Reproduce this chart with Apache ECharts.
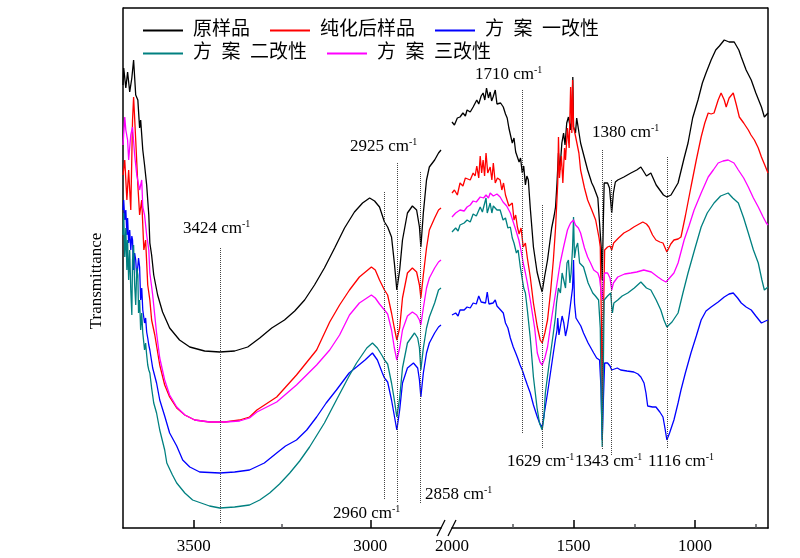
<!DOCTYPE html>
<html>
<head>
<meta charset="utf-8">
<script src="https://cdn.jsdelivr.net/npm/echarts@6/dist/echarts.min.js"></script>
<style>html,body{margin:0;padding:0;background:#fff}#chart{width:800px;height:558px}</style>
</head>
<body>
<div id="chart"></div>
<script>
// series names (legend order)
const names = ["原样品", "纯化后样品", "方\u2002案\u2002一改性", "方\u2002案\u2002二改性", "方\u2002案\u2002三改性"]
const colors = ["#000000", "#ff0000", "#0000ff", "#008080", "#ff00ff"]

// left part of the broken axis: 3700 - 2800 cm-1, [wavenumber, transmittance (a.u.)]
const blackLeft = [[3700,443],[3698,460],[3692,440],[3687,456],[3681,436],[3675,450],[3670,468],[3664,433],[3658,428],[3653,400],[3650,408],[3644,378],[3639,363],[3633,343],[3627,313],[3624,285],[3619,273],[3613,253],[3602,233],[3588,216],[3568,200],[3540,188],[3511,181],[3469,177],[3426,176],[3384,177],[3347,181],[3313,190],[3279,200],[3243,208],[3214,217],[3186,228],[3158,243],[3130,260],[3101,280],[3073,300],[3045,316],[3022,325],[3002,330],[2988,327],[2974,321],[2960,306],[2951,301],[2940,291],[2932,265],[2925,238],[2917,258],[2909,288],[2895,315],[2881,322],[2869,318],[2861,301],[2857,281],[2850,315],[2841,348],[2833,361],[2818,368],[2807,375],[2800,378]]
const redLeft = [[3700,353],[3695,368],[3689,328],[3684,358],[3678,318],[3673,408],[3670,431],[3664,388],[3658,343],[3653,313],[3647,328],[3641,278],[3636,288],[3630,243],[3624,228],[3619,208],[3610,193],[3596,163],[3582,143],[3568,131],[3548,120],[3525,113],[3497,108],[3455,106],[3412,106],[3370,108],[3342,111],[3321,118],[3265,131],[3209,153],[3152,178],[3115,206],[3087,223],[3059,238],[3031,251],[2997,261],[2986,258],[2974,248],[2960,238],[2951,233],[2940,215],[2932,200],[2925,188],[2917,200],[2909,230],[2895,255],[2881,260],[2869,256],[2861,243],[2857,230],[2850,253],[2841,280],[2833,298],[2818,310],[2807,318],[2800,320]]
const blueLeft = [[3700,318],[3698,328],[3695,308],[3692,318],[3689,293],[3687,310],[3684,285],[3681,298],[3678,278],[3675,292],[3673,288],[3670,258],[3667,275],[3664,268],[3661,250],[3658,250],[3656,270],[3653,261],[3650,228],[3647,240],[3644,218],[3639,205],[3636,210],[3633,196],[3630,190],[3627,183],[3624,178],[3616,160],[3605,145],[3596,128],[3582,112],[3568,95],[3548,82],[3531,68],[3511,61],[3483,56],[3426,55],[3384,56],[3342,58],[3300,65],[3265,75],[3240,82],[3209,88],[3180,98],[3152,111],[3125,125],[3096,138],[3060,155],[3039,161],[3015,168],[2994,175],[2980,168],[2966,155],[2960,150],[2951,146],[2940,128],[2932,112],[2925,98],[2917,118],[2909,145],[2895,160],[2878,165],[2866,160],[2861,148],[2857,131],[2850,155],[2841,175],[2833,185],[2818,195],[2807,201],[2800,203]]
const tealLeft = [[3700,293],[3698,315],[3695,271],[3692,300],[3689,258],[3687,288],[3684,248],[3681,278],[3678,238],[3675,213],[3673,268],[3670,283],[3667,243],[3664,223],[3661,260],[3658,253],[3656,215],[3653,228],[3650,198],[3647,215],[3644,195],[3639,178],[3636,185],[3633,173],[3630,163],[3627,158],[3624,155],[3619,140],[3613,125],[3605,115],[3596,98],[3582,78],[3576,65],[3560,53],[3548,45],[3525,35],[3503,28],[3455,22],[3426,20],[3384,21],[3342,23],[3313,28],[3285,35],[3257,44],[3228,55],[3200,67],[3172,81],[3130,105],[3096,128],[3060,152],[3039,165],[3010,180],[2994,185],[2980,180],[2966,172],[2960,168],[2951,164],[2940,145],[2932,128],[2925,111],[2917,130],[2909,160],[2895,185],[2875,195],[2866,190],[2861,180],[2857,158],[2850,180],[2841,200],[2833,211],[2818,225],[2807,238],[2800,240]]
const pinkLeft = [[3700,383],[3695,411],[3692,398],[3687,388],[3684,368],[3678,393],[3673,401],[3667,373],[3661,353],[3653,338],[3647,348],[3644,321],[3639,313],[3633,293],[3627,278],[3624,255],[3616,233],[3605,195],[3596,170],[3582,148],[3568,133],[3548,121],[3525,113],[3497,108],[3455,106],[3412,106],[3370,107],[3342,110],[3321,116],[3265,126],[3209,143],[3152,163],[3115,178],[3087,193],[3059,213],[3031,225],[2997,233],[2986,230],[2974,224],[2960,218],[2951,214],[2940,198],[2932,180],[2925,168],[2917,180],[2909,198],[2895,212],[2881,216],[2869,213],[2861,208],[2857,203],[2850,220],[2841,240],[2833,250],[2818,260],[2807,266],[2800,268]]

// right part: 2000 - 700 cm-1
const blackRight = [[2000,406],[1990,403],[1978,410],[1967,411],[1955,415],[1945,412],[1938,418],[1925,416],[1913,421],[1905,419],[1898,428],[1890,424],[1880,432],[1872,435],[1865,428],[1858,440],[1850,430],[1843,436],[1837,427],[1831,431],[1822,438],[1815,424],[1800,425],[1789,421],[1780,414],[1773,410],[1766,400],[1760,398],[1752,385],[1745,390],[1738,376],[1731,378],[1724,366],[1718,370],[1711,355],[1705,362],[1698,343],[1692,352],[1686,348],[1678,320],[1665,281],[1650,256],[1636,242],[1629,236],[1620,250],[1607,268],[1590,300],[1580,312],[1574,321],[1568,345],[1562,375],[1556,358],[1548,385],[1541,395],[1535,383],[1528,405],[1521,411],[1512,398],[1506,420],[1503,451],[1500,401],[1492,395],[1487,410],[1483,408],[1471,385],[1455,370],[1442,358],[1425,345],[1417,341],[1400,330],[1392,328],[1386,280],[1382,248],[1378,300],[1374,345],[1360,345],[1352,340],[1343,315],[1336,335],[1328,346],[1318,348],[1293,351],[1264,355],[1240,358],[1223,361],[1200,352],[1182,355],[1160,343],[1153,341],[1130,333],[1116,331],[1099,333],[1070,345],[1045,370],[1029,385],[1010,410],[988,428],[970,445],[955,455],[934,468],[915,478],[900,482],[880,488],[860,486],[839,486],[820,478],[810,471],[790,458],[769,448],[750,435],[727,421],[715,411],[700,415]]
const redRight = [[2000,335],[1990,338],[1978,333],[1967,345],[1955,342],[1945,350],[1938,352],[1925,348],[1913,355],[1905,352],[1898,362],[1890,350],[1884,372],[1878,355],[1872,368],[1866,352],[1860,375],[1853,355],[1843,361],[1836,348],[1830,365],[1822,345],[1813,350],[1802,348],[1795,338],[1788,345],[1780,333],[1773,335],[1766,322],[1760,320],[1752,325],[1745,308],[1738,313],[1731,301],[1724,294],[1716,300],[1707,281],[1698,285],[1690,270],[1678,251],[1665,225],[1649,201],[1637,188],[1629,185],[1618,195],[1607,208],[1595,235],[1583,268],[1574,300],[1568,330],[1565,345],[1562,391],[1558,350],[1550,372],[1544,345],[1537,380],[1533,368],[1525,400],[1518,380],[1512,441],[1507,395],[1504,448],[1500,401],[1492,392],[1485,390],[1478,375],[1471,358],[1455,340],[1442,328],[1425,318],[1409,308],[1395,290],[1390,281],[1385,200],[1382,103],[1378,200],[1372,278],[1360,281],[1350,282],[1343,278],[1335,285],[1315,290],[1293,295],[1270,298],[1252,301],[1230,304],[1215,306],[1200,304],[1190,301],[1175,293],[1161,288],[1145,286],[1132,285],[1116,276],[1100,284],[1087,288],[1070,289],[1058,291],[1040,312],[1017,341],[995,368],[975,391],[960,405],[946,415],[934,414],[922,415],[905,428],[893,435],[880,428],[872,421],[860,430],[843,435],[830,423],[818,411],[800,405],[781,398],[770,393],[756,388],[740,380],[727,371],[715,364],[700,355]]
const blueRight = [[2000,213],[1985,215],[1975,212],[1967,218],[1950,218],[1938,221],[1925,220],[1913,225],[1900,224],[1890,232],[1880,226],[1872,228],[1862,225],[1855,236],[1848,224],[1843,226],[1831,225],[1822,228],[1815,222],[1800,218],[1789,215],[1780,205],[1770,200],[1760,190],[1748,181],[1738,175],[1730,170],[1720,163],[1711,158],[1705,160],[1700,150],[1690,143],[1678,135],[1665,123],[1649,111],[1638,104],[1629,101],[1620,115],[1607,135],[1595,155],[1583,175],[1575,188],[1568,198],[1565,210],[1560,193],[1554,195],[1547,212],[1540,205],[1533,192],[1525,201],[1517,215],[1510,215],[1504,240],[1500,268],[1496,225],[1490,210],[1483,208],[1470,202],[1459,195],[1440,185],[1417,175],[1405,170],[1393,168],[1387,140],[1382,88],[1377,130],[1372,165],[1360,165],[1350,162],[1343,158],[1335,158],[1320,160],[1306,158],[1280,157],[1252,156],[1235,154],[1223,151],[1210,145],[1202,135],[1195,122],[1190,120],[1175,121],[1161,121],[1145,116],[1132,111],[1124,100],[1116,88],[1105,95],[1087,108],[1070,125],[1058,138],[1040,155],[1017,175],[995,192],[975,208],[955,217],[934,221],[905,226],[880,231],[860,234],[843,235],[825,230],[810,225],[790,221],[769,218],[750,212],[727,205],[710,207],[700,208]]
const tealRight = [[2000,296],[1985,300],[1975,297],[1967,303],[1950,305],[1938,308],[1925,306],[1913,314],[1900,312],[1884,321],[1875,316],[1870,318],[1860,330],[1855,315],[1843,325],[1836,315],[1830,322],[1815,318],[1802,318],[1790,308],[1780,310],[1770,300],[1760,301],[1752,290],[1745,285],[1735,275],[1728,278],[1719,261],[1712,262],[1705,240],[1698,235],[1690,218],[1678,190],[1665,151],[1650,120],[1640,105],[1629,98],[1622,110],[1616,135],[1600,165],[1583,195],[1575,210],[1570,225],[1562,240],[1554,235],[1547,255],[1540,255],[1533,240],[1527,265],[1521,268],[1515,245],[1510,255],[1504,280],[1500,311],[1496,270],[1490,280],[1483,285],[1475,265],[1459,261],[1440,245],[1421,235],[1410,232],[1397,228],[1390,200],[1386,130],[1382,81],[1378,150],[1374,228],[1360,232],[1347,235],[1343,222],[1340,215],[1334,225],[1318,228],[1300,232],[1277,235],[1250,240],[1223,246],[1200,240],[1182,238],[1160,228],[1141,218],[1128,208],[1116,201],[1095,206],[1070,215],[1050,235],[1029,255],[1000,280],[975,301],[950,315],[922,325],[895,332],[864,335],[845,330],[822,325],[800,310],[781,295],[760,278],[740,265],[725,248],[715,238],[700,241]]
const pinkRight = [[2000,311],[1985,315],[1967,318],[1950,317],[1938,321],[1925,323],[1913,327],[1900,326],[1884,331],[1870,330],[1860,333],[1850,330],[1843,335],[1830,332],[1815,334],[1802,331],[1790,326],[1775,322],[1760,315],[1740,300],[1725,288],[1719,281],[1712,272],[1707,265],[1698,255],[1690,245],[1678,228],[1660,200],[1649,175],[1638,166],[1629,163],[1618,170],[1607,181],[1590,210],[1574,235],[1555,265],[1541,281],[1525,298],[1518,302],[1512,305],[1500,308],[1492,303],[1480,300],[1471,295],[1455,280],[1442,271],[1430,265],[1417,258],[1400,255],[1393,250],[1386,235],[1382,228],[1378,245],[1372,255],[1360,255],[1350,250],[1343,238],[1336,245],[1318,251],[1290,254],[1264,255],[1240,256],[1211,258],[1180,256],[1153,251],[1135,248],[1120,246],[1105,250],[1087,255],[1070,265],[1045,288],[1025,302],[1004,318],[975,335],[946,351],[925,358],[905,365],[885,367],[864,368],[840,365],[822,358],[800,350],[781,341],[760,330],[740,321],[720,311],[707,305],[700,303]]

// tick values
const leftLabels = [3500, 3000]
const leftMinor = [3250]
const rightLabels = [2000, 1500, 1000]
const rightMajor = [1500, 1000]
const rightMinor = [1750, 1250, 750]

// band markers: [wavenumber, top, bottom] in axis units
const leftMarks = [[3424, 280, 5], [2960, 336, 29], [2925, 365, 25], [2858, 356, 24]]
const rightMarks = [[1710, 438, 95], [1629, 323, 80], [1380, 378, 78], [1343, 348, 73], [1116, 371, 80]]

const SERIF = "'Liberation Serif', 'Times New Roman', serif"
const CJK = "'Liberation Serif', 'Noto Sans CJK SC', sans-serif"

const myChart = echarts.init(document.getElementById("chart"))

const markLineOf = (marks) => ({
  silent: true,
  symbol: ["none", "none"],
  label: { show: false },
  lineStyle: { type: "dotted", color: "#444", width: 1 },
  data: marks.map(m => [{ coord: [m[0], m[1]] }, { coord: [m[0], m[2]] }])
})

const leftSets = [blackLeft, redLeft, blueLeft, tealLeft, pinkLeft]
const rightSets = [blackRight, redRight, blueRight, tealRight, pinkRight]

const series = []
names.forEach((name, i) => {
  series.push({
    name: name,
    type: "line",
    xAxisIndex: 0,
    yAxisIndex: 0,
    data: leftSets[i],
    symbol: "none",
    lineStyle: { color: colors[i], width: 1.3 },
    itemStyle: { color: colors[i] },
    markLine: i === 0 ? markLineOf(leftMarks) : undefined
  })
  series.push({
    name: name,
    type: "line",
    xAxisIndex: 2,
    yAxisIndex: 1,
    data: rightSets[i],
    symbol: "none",
    lineStyle: { color: colors[i], width: 1.3 },
    itemStyle: { color: colors[i] },
    markLine: i === 0 ? markLineOf(rightMarks) : undefined
  })
})

const axisLineStyle = { lineStyle: { color: "#000", width: 1.5 } }
const labelStyle = { fontFamily: SERIF, fontSize: 17, color: "#000", margin: 10, formatter: (v) => String(v) }

const annotation = (num, x, y) => ({
  type: "text",
  x: x,
  y: y,
  style: {
    text: "{a|" + num + " cm}{s|-1}",
    verticalAlign: "middle",
    rich: {
      a: { fontFamily: SERIF, fontSize: 17, fill: "#000", lineHeight: 20 },
      s: { fontFamily: SERIF, fontSize: 10, fill: "#000", verticalAlign: "top" }
    }
  }
})

const legendBase = {
  left: 143,
  padding: 0,
  icon: "rect",
  itemWidth: 40,
  itemHeight: 2,
  itemGap: 20,
  textStyle: { fontFamily: CJK, fontSize: 19, color: "#000", padding: [0, 0, 0, 5] }
}

myChart.setOption({
  animation: false,
  backgroundColor: "#fff",
  legend: [
    Object.assign({ data: names.slice(0, 3), top: 21 }, legendBase),
    Object.assign({ data: names.slice(3), top: 44 }, legendBase)
  ],
  grid: [
    { left: 123, top: 8, width: 318, height: 520 },
    { left: 452, top: 8, width: 316, height: 520 }
  ],
  xAxis: [
    {
      gridIndex: 0, type: "value", min: 2800, max: 3700, inverse: true, position: "bottom",
      axisLine: axisLineStyle,
      axisTick: { inside: true, length: 8, customValues: leftLabels, lineStyle: { width: 1.5 } },
      axisLabel: Object.assign({ customValues: leftLabels }, labelStyle),
      splitLine: { show: false }
    },
    {
      gridIndex: 0, type: "value", min: 2800, max: 3700, inverse: true, position: "bottom",
      axisLine: { show: false },
      axisTick: { inside: true, length: 4, customValues: leftMinor, lineStyle: { width: 1.5 } },
      axisLabel: { show: false },
      splitLine: { show: false }
    },
    {
      gridIndex: 1, type: "value", min: 700, max: 2000, inverse: true, position: "bottom",
      axisLine: axisLineStyle,
      axisTick: { inside: true, length: 8, customValues: rightMajor, lineStyle: { width: 1.5 } },
      axisLabel: Object.assign({ customValues: rightLabels }, labelStyle),
      splitLine: { show: false }
    },
    {
      gridIndex: 1, type: "value", min: 700, max: 2000, inverse: true, position: "bottom",
      axisLine: { show: false },
      axisTick: { inside: true, length: 4, customValues: rightMinor, lineStyle: { width: 1.5 } },
      axisLabel: { show: false },
      splitLine: { show: false }
    }
  ],
  yAxis: [
    {
      gridIndex: 0, type: "value", min: 0, max: 520, position: "left",
      axisLine: Object.assign({ show: true }, axisLineStyle),
      axisTick: { show: false }, axisLabel: { show: false }, splitLine: { show: false }
    },
    {
      gridIndex: 1, type: "value", min: 0, max: 520, position: "right",
      axisLine: Object.assign({ show: true }, axisLineStyle),
      axisTick: { show: false }, axisLabel: { show: false }, splitLine: { show: false }
    }
  ],
  graphic: [
    { type: "line", shape: { x1: 123, y1: 8, x2: 768, y2: 8 }, style: { stroke: "#000", lineWidth: 1.5 } },
    { type: "line", shape: { x1: 437, y1: 536, x2: 445, y2: 520 }, style: { stroke: "#000", lineWidth: 1.3 } },
    { type: "line", shape: { x1: 448, y1: 536, x2: 456, y2: 520 }, style: { stroke: "#000", lineWidth: 1.3 } },
    {
      type: "text", x: 97, y: 281, rotation: Math.PI / 2,
      style: { text: "Transmittance", fontFamily: SERIF, fontSize: 17, fill: "#000", align: "center", verticalAlign: "middle" }
    },
    annotation("3424", 183, 229),
    annotation("2925", 350, 147),
    annotation("2960", 333, 514),
    annotation("2858", 425, 495),
    annotation("1710", 475, 75),
    annotation("1380", 592, 133),
    annotation("1629", 507, 462),
    annotation("1343", 575, 462),
    annotation("1116", 648, 462)
  ],
  series: series
})
</script>
</body>
</html>
